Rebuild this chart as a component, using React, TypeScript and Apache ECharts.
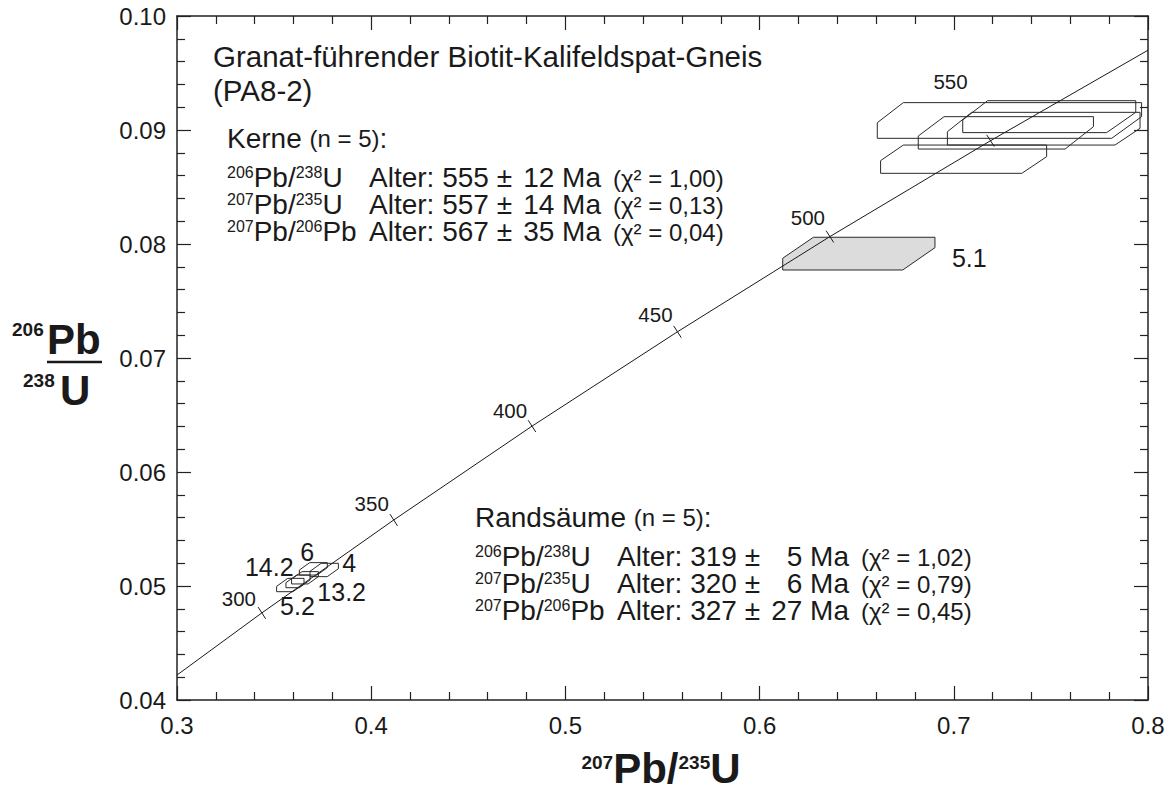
import React, { useEffect, useRef } from 'react';
import * as echarts from 'echarts';

const FONT = '"Liberation Sans", Arial, Helvetica, sans-serif';
const INK = '#1a1a1a';
const FRAME = '#222222';

// ---- axes ----
const xMin = 0.3, xMax = 0.8, xStep = 0.1;
const yMin = 0.04, yMax = 0.10, yStep = 0.01;

// ---- concordia (206Pb/238U vs 207Pb/235U) ----
const concordiaX = [0.3, 0.3437, 0.4116, 0.4828, 0.5577, 0.6362, 0.7189, 0.8];
const concordiaY = [0.04219, 0.04764, 0.05579, 0.06402, 0.0723, 0.08065, 0.08906, 0.097];
const ageTicks = [300, 350, 400, 450, 500, 550];
const ageTickX = [0.3437, 0.4116, 0.4828, 0.5577, 0.6362, 0.7189];
const ageTickY = [0.04764, 0.05579, 0.06402, 0.0723, 0.08065, 0.08906];

// ---- error boxes (vertices in data units) ----
const coreBoxes = [
  [[0.6606, 0.09064], [0.674, 0.0924], [0.7967, 0.0924], [0.7967, 0.09117], [0.7813, 0.08927], [0.6606, 0.08927]],
  [[0.7046, 0.09088], [0.7174, 0.09257], [0.7937, 0.09257], [0.7937, 0.09155], [0.7787, 0.08977], [0.7046, 0.08977]],
  [[0.6967, 0.08985], [0.7092, 0.09155], [0.7959, 0.09155], [0.7959, 0.09015], [0.783, 0.08868], [0.6967, 0.08868]],
  [[0.6817, 0.08947], [0.695, 0.09117], [0.7719, 0.09117], [0.7719, 0.09029], [0.7573, 0.08833], [0.6817, 0.08833]],
  [[0.6623, 0.08731], [0.674, 0.08868], [0.7478, 0.08868], [0.7478, 0.08766], [0.735, 0.0862], [0.6623, 0.0862]],
];
const excludedBox = [
  [[0.6119, 0.07875], [0.6277, 0.08059], [0.6903, 0.08059], [0.6903, 0.07968], [0.6737, 0.07772], [0.6119, 0.07772]],
];
const rimBoxes = [
  [[0.3513, 0.04997], [0.357, 0.05067], [0.3654, 0.05067], [0.3654, 0.0502], [0.3597, 0.0495], [0.3513, 0.0495]],
  [[0.3561, 0.05029], [0.3616, 0.05096], [0.3685, 0.05096], [0.3685, 0.05053], [0.363, 0.04985], [0.3561, 0.04985]],
  [[0.359, 0.05061], [0.3644, 0.05126], [0.3728, 0.05126], [0.3728, 0.05082], [0.3675, 0.05018], [0.359, 0.05018]],
  [[0.363, 0.0514], [0.3683, 0.05205], [0.3774, 0.05205], [0.3774, 0.05161], [0.3721, 0.05096], [0.363, 0.05096]],
  [[0.3685, 0.05129], [0.3742, 0.05199], [0.3831, 0.05199], [0.3831, 0.05152], [0.3774, 0.05082], [0.3685, 0.05082]],
];

// ---- spot labels ----
const spotLabels = ['14.2', '6', '4', '13.2', '5.2', '5.1'];
const spotLabelX = [0.3475, 0.3671, 0.3887, 0.3848, 0.362, 0.708];
const spotLabelY = [0.0517, 0.05301, 0.05199, 0.0495, 0.04825, 0.07875];

// ---- age results ----
const ratioNames = [
  ['206', 'Pb', '238', 'U'],
  ['207', 'Pb', '235', 'U'],
  ['207', 'Pb', '206', 'Pb'],
];
const coreAges = [555, 557, 567];
const coreErrors = [12, 14, 35];
const coreChi = ['1,00', '0,13', '0,04'];
const rimAges = [319, 320, 327];
const rimErrors = [5, 6, 27];
const rimChi = ['1,02', '0,79', '0,45'];

// label offsets (pixels) of concordia age labels relative to their tick
const ageLabelOffset: Record<number, [number, number]> = {
  300: [-23, -14], 350: [-22, -16], 400: [-22, -16], 450: [-22, -17], 500: [-22, -19], 550: [-40, -59],
};

const MAIN = 28;
const richMain = {
  s: { fontSize: 16, lineHeight: 14, verticalAlign: 'top', fontFamily: FONT, fill: INK },
  m: { fontSize: MAIN, lineHeight: 26, fontFamily: FONT, fill: INK },
  n: { fontSize: 24, lineHeight: 26, fontFamily: FONT, fill: INK },
};

function txt(x: number, y: number, text: string, extra: any = {}) {
  return {
    type: 'text', x, y, z: 20,
    style: { text, fontFamily: FONT, fontSize: MAIN, lineHeight: 26, fill: INK, align: 'left', verticalAlign: 'middle', ...extra },
  };
}

function resultBlock(x0: number, yHead: number, yRows: number[], head: string, ages: number[], errs: number[], chis: string[]) {
  const els: any[] = [];
  els.push(txt(x0, yHead, `{m|${head} }{n|(n = 5)}{m|:}`, { rich: richMain }));
  yRows.forEach((yc, i) => {
    const r = ratioNames[i];
    els.push(txt(x0, yc, `{s|${r[0]}}{m|${r[1]}/}{s|${r[2]}}{m|${r[3]}}`, { rich: richMain }));
    els.push(txt(x0 + 142, yc, `Alter: ${ages[i]} ±`));
    els.push(txt(x0 + 374, yc, `${errs[i]} Ma`, { align: 'right' }));
    els.push(txt(x0 + 386, yc + 1, `(χ² = ${chis[i]})`, { fontSize: 24, lineHeight: 24 }));
  });
  return els;
}

function boxSeries(boxes: number[][][], fill: string, z: number) {
  return {
    type: 'custom',
    coordinateSystem: 'cartesian2d',
    xAxisIndex: 0,
    yAxisIndex: 0,
    silent: true,
    clip: true,
    z,
    data: boxes.map((b) => b[0]),
    renderItem: (params: any, api: any) => ({
      type: 'polygon',
      shape: { points: boxes[params.dataIndex].map((p) => api.coord(p)) },
      style: { fill, stroke: '#2a2a2a', lineWidth: 1 },
    }),
  };
}

function axisBase(min: number, max: number, interval: number) {
  return {
    type: 'value',
    min,
    max,
    interval,
    axisLine: { show: true, onZero: false, lineStyle: { color: FRAME, width: 1.5 } },
    axisTick: { show: true, inside: true, length: 14, lineStyle: { color: FRAME, width: 1.2 } },
    minorTick: { show: true, splitNumber: 5, length: 8, lineStyle: { color: FRAME, width: 1.2 } },
    splitLine: { show: false },
    minorSplitLine: { show: false },
  };
}

export default function App() {
  const ref = useRef<HTMLDivElement>(null);
  useEffect(() => {
    if (!ref.current) return;
    const chart = echarts.init(ref.current, null, { renderer: 'svg' });
    const option: any = {
      animation: false,
      backgroundColor: '#ffffff',
      grid: { left: 177, right: 25, top: 16, bottom: 90, containLabel: false },
      xAxis: [
        {
          ...axisBase(xMin, xMax, xStep),
          position: 'bottom',
          axisLabel: { show: true, margin: 13, fontSize: 24, color: INK, fontFamily: FONT, formatter: (v: number) => v.toFixed(1) },
        },
        { ...axisBase(xMin, xMax, xStep), position: 'top', axisLabel: { show: false } },
      ],
      yAxis: [
        {
          ...axisBase(yMin, yMax, yStep),
          position: 'left',
          axisLabel: { show: true, margin: 11, fontSize: 24, color: INK, fontFamily: FONT, formatter: (v: number) => v.toFixed(2) },
        },
        { ...axisBase(yMin, yMax, yStep), position: 'right', axisLabel: { show: false } },
      ],
      series: [
        boxSeries(excludedBox, '#dcdcdc', 2),
        boxSeries(coreBoxes, 'none', 3),
        boxSeries(rimBoxes, 'none', 3),
        {
          type: 'line',
          xAxisIndex: 0,
          yAxisIndex: 0,
          data: concordiaX.map((x, i) => [x, concordiaY[i]]),
          showSymbol: false,
          symbol: 'none',
          silent: true,
          clip: true,
          z: 5,
          lineStyle: { color: INK, width: 1 },
        },
        {
          type: 'custom',
          coordinateSystem: 'cartesian2d',
          silent: true,
          clip: false,
          z: 6,
          data: ageTicks.map((a, i) => [ageTickX[i], ageTickY[i], a]),
          renderItem: (params: any, api: any) => {
            const p = api.coord([api.value(0), api.value(1)]);
            const a = api.coord([concordiaX[0], concordiaY[0]]);
            const b = api.coord([concordiaX[concordiaX.length - 1], concordiaY[concordiaY.length - 1]]);
            const dx = b[0] - a[0], dy = b[1] - a[1];
            const len = Math.sqrt(dx * dx + dy * dy);
            const nx = -dy / len, ny = dx / len;
            const age = ageTicks[params.dataIndex];
            const off = ageLabelOffset[age];
            return {
              type: 'group',
              children: [
                { type: 'line', shape: { x1: p[0] - nx * 7, y1: p[1] - ny * 7, x2: p[0] + nx * 7, y2: p[1] + ny * 7 }, style: { stroke: INK, lineWidth: 1 } },
                { type: 'text', x: p[0] + off[0], y: p[1] + off[1], style: { text: String(age), fontSize: 20.5, fontFamily: FONT, fill: INK, align: 'center', verticalAlign: 'middle' } },
              ],
            };
          },
        },
        {
          type: 'custom',
          coordinateSystem: 'cartesian2d',
          silent: true,
          clip: false,
          z: 7,
          data: spotLabels.map((s, i) => [spotLabelX[i], spotLabelY[i]]),
          renderItem: (params: any, api: any) => {
            const p = api.coord([api.value(0), api.value(1)]);
            return {
              type: 'text', x: p[0], y: p[1],
              style: { text: spotLabels[params.dataIndex], fontSize: 25, fontFamily: FONT, fill: INK, align: 'center', verticalAlign: 'middle' },
            };
          },
        },
      ],
      graphic: {
        elements: [
          txt(213, 56, 'Granat-führender Biotit-Kalifeldspat-Gneis', { fontSize: 29.5 }),
          txt(213, 90, '(PA8-2)', { fontSize: 29.5 }),
          ...resultBlock(227, 138, [177, 204, 231], 'Kerne', coreAges, coreErrors, coreChi),
          ...resultBlock(475, 517, [556, 583, 610], 'Randsäume', rimAges, rimErrors, rimChi),
          // y-axis title
          txt(12, 329, '206', { fontSize: 19, lineHeight: 19, fontWeight: 'bold' }),
          txt(47, 339, 'Pb', { fontSize: 42, lineHeight: 38, fontWeight: 'bold' }),
          { type: 'line', z: 20, shape: { x1: 47, y1: 362, x2: 102, y2: 362 }, style: { stroke: INK, lineWidth: 2.5 } },
          txt(23, 380, '238', { fontSize: 19, lineHeight: 19, fontWeight: 'bold' }),
          txt(60, 390, 'U', { fontSize: 42, lineHeight: 38, fontWeight: 'bold' }),
          // x-axis title
          txt(661, 768, '{s|207}{b|Pb/}{s|235}{b|U}', {
            align: 'center',
            lineHeight: 30,
            rich: {
              s: { fontSize: 19, fontWeight: 'bold', lineHeight: 10, verticalAlign: 'top', fontFamily: FONT, fill: INK },
              b: { fontSize: 42, fontWeight: 'bold', lineHeight: 30, fontFamily: FONT, fill: INK },
            },
          }),
        ],
      },
    };
    chart.setOption(option);
    return () => chart.dispose();
  }, []);
  return (
    <div
      ref={ref}
      style={{ position: 'fixed', left: 0, top: 0, width: 1173, height: 790, background: '#ffffff' }}
    />
  );
}
